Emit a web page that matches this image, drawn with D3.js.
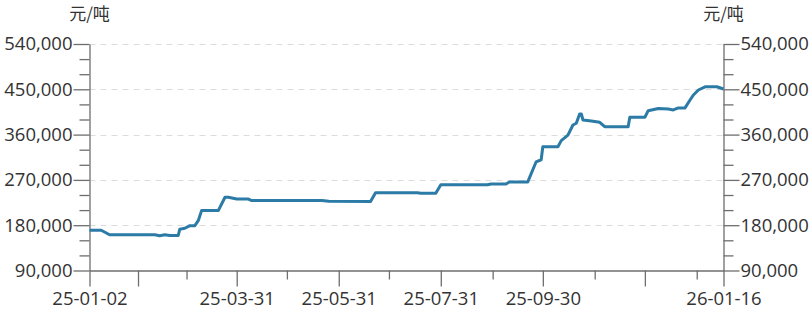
<!DOCTYPE html>
<html lang="zh">
<head>
    <meta charset="UTF-8">
    <title>价格走势</title>
    <script src="https://d3js.org/d3.v7.min.js"></script>
    <style>
        html, body { margin: 0; padding: 0; background: #fff; }
        body { font-family: "Open Sans", "Noto Sans CJK SC", sans-serif; }
        .axis text { fill: #333; font-size: 18.5px; font-family: "Open Sans", "Noto Sans CJK SC", sans-serif; }
        .axis path, .axis line { stroke: #6e6e6e; stroke-width: 1.3; }
        .grid line { stroke: #dcdcdc; stroke-dasharray: 6,5; }
        .unit { fill: #333; font-size: 17px; font-family: "Noto Sans CJK SC", sans-serif; }
    </style>
</head>
<body>
    <svg width="810" height="313"></svg>
    <script>
        // price series (元/吨)
        const dates = [
            "2025-01-02", "2025-01-09", "2025-01-14", "2025-02-10", "2025-02-13", "2025-02-16",
            "2025-02-19", "2025-02-24", "2025-02-25", "2025-02-28", "2025-03-03", "2025-03-06",
            "2025-03-08", "2025-03-10", "2025-03-20", "2025-03-24", "2025-03-26", "2025-03-31",
            "2025-04-07", "2025-04-09", "2025-05-21", "2025-05-25", "2025-06-19", "2025-06-22",
            "2025-07-17", "2025-07-19", "2025-07-28", "2025-07-31", "2025-08-28", "2025-08-30",
            "2025-09-08", "2025-09-10", "2025-09-21", "2025-09-26", "2025-09-29", "2025-09-30",
            "2025-10-09", "2025-10-11", "2025-10-15", "2025-10-18", "2025-10-20", "2025-10-22",
            "2025-10-23", "2025-10-24", "2025-10-29", "2025-11-03", "2025-11-06", "2025-11-20",
            "2025-11-21", "2025-11-30", "2025-12-02", "2025-12-08", "2025-12-14", "2025-12-17",
            "2025-12-20", "2025-12-24", "2025-12-27", "2025-12-29", "2026-01-01", "2026-01-05",
            "2026-01-12", "2026-01-16"
        ];
        const prices = [
            170000, 170000, 161000, 161000, 159000, 161000,
            159500, 159500, 172000, 174000, 179000, 179000,
            189000, 209000, 209000, 235500, 235500, 232000,
            232000, 229000, 229000, 227500, 227000, 244500,
            244500, 243500, 243500, 260500, 260500, 262000,
            262000, 266000, 266000, 306000, 310000, 336000,
            336000, 348000, 359000, 379000, 382500, 401000,
            401000, 389000, 387000, 384500, 375700, 375700,
            394500, 394500, 407500, 412000, 411000, 409000,
            413000, 413000, 428700, 438700, 448600, 455000,
            455000, 450600
        ];

        // axis ticks
        const xTickDates = [
            "2025-01-02", "2025-01-31", "2025-03-01", "2025-03-31", "2025-04-30", "2025-05-31",
            "2025-06-30", "2025-07-31", "2025-08-31", "2025-09-30", "2025-10-31", "2025-11-30",
            "2025-12-31", "2026-01-16"
        ];
        const xTickLabels = [
            "25-01-02", "", "", "25-03-31", "", "25-05-31",
            "", "25-07-31", "", "25-09-30", "", "",
            "", "26-01-16"
        ];
        const yTicks = [90000, 180000, 270000, 360000, 450000, 540000];
        const yMinorTicks = [120000, 150000, 210000, 240000, 300000, 330000, 390000, 420000, 480000, 510000];
        const unitLabel = "元/吨";

        const parse = d3.timeParse("%Y-%m-%d");
        const data = dates.map((d, i) => ({ date: parse(d), value: prices[i] }));
        const tickDates = xTickDates.map(parse);

        const margin = { left: 89.5, right: 723.5, top: 44, bottom: 270.5 };
        const svg = d3.select("svg");

        const x = d3.scaleTime()
            .domain([tickDates[0], tickDates[tickDates.length - 1]])
            .range([margin.left, margin.right]);

        const y = d3.scaleLinear()
            .domain([90000, 540000])
            .range([margin.bottom, margin.top]);

        const fmt = d3.format(",");

        // dashed grid
        svg.append("g")
            .attr("class", "grid")
            .selectAll("line")
            .data(yTicks.slice(1))
            .join("line")
            .attr("x1", margin.left)
            .attr("x2", margin.right)
            .attr("y1", d => Math.round(y(d)) + 0.5)
            .attr("y2", d => Math.round(y(d)) + 0.5);

        // minor y ticks
        [[margin.left, d3.axisLeft], [margin.right, d3.axisRight]].forEach(([pos, axisFn]) => {
            svg.append("g")
                .attr("class", "axis")
                .attr("transform", `translate(${pos},0)`)
                .call(axisFn(y).tickValues(yMinorTicks).tickSize(10).tickSizeOuter(0).tickFormat(""))
                .call(g => g.select(".domain").remove());
        });

        // major y axes
        svg.append("g")
            .attr("class", "axis")
            .attr("transform", `translate(${margin.left},0)`)
            .call(d3.axisLeft(y).tickValues(yTicks).tickSize(16).tickSizeOuter(0).tickPadding(1).tickFormat(fmt));

        svg.append("g")
            .attr("class", "axis")
            .attr("transform", `translate(${margin.right},0)`)
            .call(d3.axisRight(y).tickValues(yTicks).tickSize(16).tickSizeOuter(0).tickPadding(1).tickFormat(fmt));

        // x axis
        const xAxis = svg.append("g")
            .attr("class", "axis")
            .attr("transform", `translate(0,${margin.bottom})`)
            .call(d3.axisBottom(x).tickValues(tickDates).tickSize(16).tickSizeOuter(0).tickPadding(5)
                .tickFormat((d, i) => xTickLabels[i]));

        xAxis.selectAll(".tick line")
            .attr("y2", (d, i) => (i === 0 || i % 2 === 1) ? 16 : 9);

        // unit labels
        [margin.left, margin.right].forEach(pos => {
            svg.append("text")
                .attr("class", "unit")
                .attr("x", pos)
                .attr("y", 20)
                .attr("text-anchor", "middle")
                .text(unitLabel);
        });

        // price line
        const line = d3.line()
            .x(d => x(d.date))
            .y(d => y(d.value));

        svg.append("path")
            .datum(data)
            .attr("fill", "none")
            .attr("stroke", "#2b7ba6")
            .attr("stroke-width", 3)
            .attr("stroke-linejoin", "round")
            .attr("d", line);
    </script>
</body>
</html>
